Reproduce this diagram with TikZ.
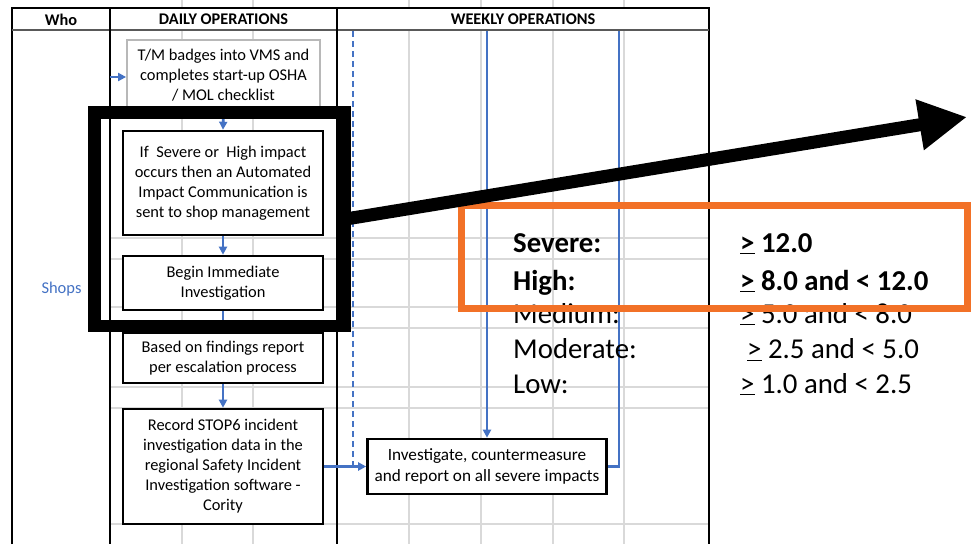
\documentclass[tikz,border=0pt]{standalone}
\usepackage{fontspec}
\setmainfont{Carlito}
\usetikzlibrary{arrows.meta}
\definecolor{bl}{RGB}{68,114,196}
\definecolor{org}{RGB}{242,113,39}
\definecolor{grd}{RGB}{217,217,217}
\tikzset{
 gridline/.style={draw=grd, line width=1.2pt},
 tab/.style={draw=black, line width=1.9pt},
 bline/.style={draw=bl, line width=2.6pt},
 barrow/.style={bline, -{Triangle[length=8pt,width=8pt]}},
 bdash/.style={bline, dash pattern=on 6pt off 4pt},
 box/.style={draw=black, line width=2.6pt, fill=white, align=center, font=\fontsize{16.4}{20}\selectfont, inner sep=0pt},
 gbox/.style={box, draw=black!28, line width=1.8pt},
 hdr/.style={font=\fontsize{16.3}{18}\selectfont\bfseries, inner sep=0pt},
 sev/.style={anchor=base west, font=\fontsize{28.8}{32}\selectfont, inner sep=0pt},
 sevb/.style={sev, font=\fontsize{28.8}{32}\selectfont\bfseries},
}
\begin{document}
\begin{tikzpicture}[x=1pt,y=-1pt]
\useasboundingbox (0,0) rectangle (971,544);
\fill[white] (0,0) rectangle (971,544);
% spreadsheet grid
\foreach \x in {182,253,409,481,553,624} \draw[gridline] (\x,0) -- (\x,544);
\foreach \y in {238,259,307,328,387,408,524} \draw[gridline] (110,\y) -- (709,\y);
% table frame and header
\fill[white] (12,8) rectangle (709,30);
\draw[tab] (12,544) -- (12,8) -- (709,8) -- (709,544);
\draw[line width=1.8pt, black!65] (12,30) -- (709,30);
\draw[tab] (110,8) -- (110,544);
\draw[tab] (337,8) -- (337,544);
\node[hdr] (hwho) at (61,19.5) {Who};
\node[hdr] (hdaily) at (223.5,19.5) {DAILY OPERATIONS};
\node[hdr] (hweekly) at (523,19.5) {WEEKLY OPERATIONS};
\node[text=bl, font=\fontsize{16.5}{18}\selectfont, inner sep=0pt] (shops) at (61.5,289) {Shops};
% boxes
\node[gbox, minimum width=193pt, minimum height=70pt] (b1) at (223.5,75) {T/M badges into VMS and\\completes start-up OSHA\\/ MOL checklist};
\node[box, minimum width=200pt, minimum height=104pt] (b2) at (223,183) {If\ \ Severe or\ \ High impact\\occurs then an Automated\\Impact Communication is\\sent to shop management};
\node[box, minimum width=200pt, minimum height=54pt] (b3) at (223,283) {Begin Immediate\\Investigation};
\node[box, minimum width=200pt, minimum height=50pt] (b4) at (223,358) {Based on findings report\\per escalation process};
\node[box, minimum width=200pt, minimum height=115pt] (b5) at (223,466.5) {Record STOP6 incident\\investigation data in the\\regional Safety Incident\\Investigation software -\\Cority};
\node[box, minimum width=239pt, minimum height=55pt, font=\fontsize{17.2}{20.5}\selectfont] (b6) at (487,466.5) {Investigate, countermeasure\\and report on all severe impacts};
% blue connectors
\coordinate (in1) at (110,77);
\draw[barrow] (in1) -- (in1 -| b1.west);
\draw[barrow] (b1.south) -- (b2.north);
\draw[barrow] (b2.south) -- (b3.north);
\draw[barrow] (b3.south) -- (b4.north);
\draw[barrow] (b4.south) -- (b5.north);
\coordinate (d0) at (353,31);
\draw[bdash] (d0) -- (d0 |- b6.west);
\draw[barrow] (b5.east) -- (b6.west);
\coordinate (s1) at (487,31);
\draw[barrow] (s1) -- (b6.north);
\coordinate (s2) at (619,31);
\draw[bline] (s2) -- (s2 |- b6.east) -- (b6.east);
% severity table
\node[sevb] (l1) at (513,252) {Severe:};
\node[sevb] (v1) at (740,252) {\underline{>} 12.0};
\node[sevb] (l2) at (513,290) {High:};
\node[sevb] (v2) at (740,290) {\underline{>} 8.0 and < 12.0};
\node[sev] (l3) at (513,323) {Medium:};
\node[sev] (v3) at (740,323) {\underline{>} 5.0 and < 8.0};
\node[sev] (l4) at (513,358.5) {Moderate:};
\node[sev] (v4) at (747,358.5) {\underline{>} 2.5 and < 5.0};
\node[sev] (l5) at (513,393) {Low:};
\node[sev] (v5) at (740,393) {\underline{>} 1.0 and < 2.5};
% orange highlight
\node[draw=org, line width=7pt, minimum width=506.5pt, minimum height=103pt, inner sep=0pt, outer sep=0pt, anchor=north west] (hl) at (461,205.5) {};
% black highlight frame and arrow
\node[draw=black, line width=12.5pt, minimum width=250pt, minimum height=213.5pt, inner sep=0pt, outer sep=0pt, anchor=north west] (frame) at (94.5,112.5) {};
\coordinate (tip) at (967,117);
\draw[line width=13pt, -{Triangle[length=48pt,width=48pt]}] (frame.east) -- (tip);
\end{tikzpicture}
\end{document}
